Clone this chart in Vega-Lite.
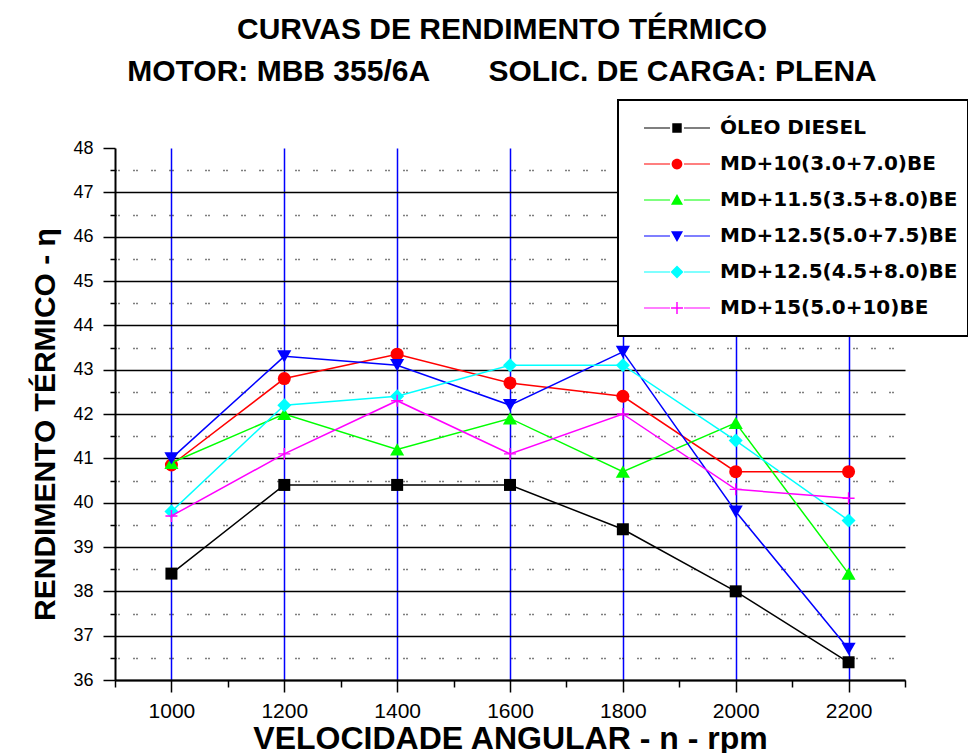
{
  "$schema": "https://vega.github.io/schema/vega-lite/v6.json",
  "autosize": "none",
  "width": 790,
  "height": 532,
  "padding": {"left": 115, "top": 148, "right": 63, "bottom": 73},
  "background": "white",
  "title": {
    "text": "CURVAS DE RENDIMENTO TÉRMICO\u00a0\u00a0\u00a0\u00a0\u00a0\u00a0\u00a0\u00a0\u00a0\u00a0\u00a0\u00a0\u00a0",
    "subtitle": "MOTOR: MBB 355/6A\u00a0\u00a0\u00a0\u00a0\u00a0\u00a0\u00a0SOLIC. DE CARGA: PLENA",
    "anchor": "middle",
    "dx": -8,
    "font": "Liberation Sans",
    "fontSize": 30,
    "fontWeight": "bold",
    "color": "black",
    "subtitleFont": "Liberation Sans",
    "subtitleFontSize": 30,
    "subtitleFontWeight": "bold",
    "subtitleColor": "black",
    "subtitlePadding": 12,
    "offset": 12
  },
  "data": {
    "values": [
      {"series": "ÓLEO DIESEL", "rpm": 1000, "eta": 38.4},
      {"series": "ÓLEO DIESEL", "rpm": 1200, "eta": 40.4},
      {"series": "ÓLEO DIESEL", "rpm": 1400, "eta": 40.4},
      {"series": "ÓLEO DIESEL", "rpm": 1600, "eta": 40.4},
      {"series": "ÓLEO DIESEL", "rpm": 1800, "eta": 39.4},
      {"series": "ÓLEO DIESEL", "rpm": 2000, "eta": 38.0},
      {"series": "ÓLEO DIESEL", "rpm": 2200, "eta": 36.4},
      {"series": "MD+10(3.0+7.0)BE", "rpm": 1000, "eta": 40.85},
      {"series": "MD+10(3.0+7.0)BE", "rpm": 1200, "eta": 42.8},
      {"series": "MD+10(3.0+7.0)BE", "rpm": 1400, "eta": 43.35},
      {"series": "MD+10(3.0+7.0)BE", "rpm": 1600, "eta": 42.7},
      {"series": "MD+10(3.0+7.0)BE", "rpm": 1800, "eta": 42.4},
      {"series": "MD+10(3.0+7.0)BE", "rpm": 2000, "eta": 40.7},
      {"series": "MD+10(3.0+7.0)BE", "rpm": 2200, "eta": 40.7},
      {"series": "MD+11.5(3.5+8.0)BE", "rpm": 1000, "eta": 40.9},
      {"series": "MD+11.5(3.5+8.0)BE", "rpm": 1200, "eta": 42.0},
      {"series": "MD+11.5(3.5+8.0)BE", "rpm": 1400, "eta": 41.2},
      {"series": "MD+11.5(3.5+8.0)BE", "rpm": 1600, "eta": 41.9},
      {"series": "MD+11.5(3.5+8.0)BE", "rpm": 1800, "eta": 40.7},
      {"series": "MD+11.5(3.5+8.0)BE", "rpm": 2000, "eta": 41.8},
      {"series": "MD+11.5(3.5+8.0)BE", "rpm": 2200, "eta": 38.4},
      {"series": "MD+12.5(5.0+7.5)BE", "rpm": 1000, "eta": 41.0},
      {"series": "MD+12.5(5.0+7.5)BE", "rpm": 1200, "eta": 43.3},
      {"series": "MD+12.5(5.0+7.5)BE", "rpm": 1400, "eta": 43.1},
      {"series": "MD+12.5(5.0+7.5)BE", "rpm": 1600, "eta": 42.2},
      {"series": "MD+12.5(5.0+7.5)BE", "rpm": 1800, "eta": 43.4},
      {"series": "MD+12.5(5.0+7.5)BE", "rpm": 2000, "eta": 39.8},
      {"series": "MD+12.5(5.0+7.5)BE", "rpm": 2200, "eta": 36.7},
      {"series": "MD+12.5(4.5+8.0)BE", "rpm": 1000, "eta": 39.8},
      {"series": "MD+12.5(4.5+8.0)BE", "rpm": 1200, "eta": 42.2},
      {"series": "MD+12.5(4.5+8.0)BE", "rpm": 1400, "eta": 42.4},
      {"series": "MD+12.5(4.5+8.0)BE", "rpm": 1600, "eta": 43.1},
      {"series": "MD+12.5(4.5+8.0)BE", "rpm": 1800, "eta": 43.1},
      {"series": "MD+12.5(4.5+8.0)BE", "rpm": 2000, "eta": 41.4},
      {"series": "MD+12.5(4.5+8.0)BE", "rpm": 2200, "eta": 39.6},
      {"series": "MD+15(5.0+10)BE", "rpm": 1000, "eta": 39.7},
      {"series": "MD+15(5.0+10)BE", "rpm": 1200, "eta": 41.1},
      {"series": "MD+15(5.0+10)BE", "rpm": 1400, "eta": 42.3},
      {"series": "MD+15(5.0+10)BE", "rpm": 1600, "eta": 41.1},
      {"series": "MD+15(5.0+10)BE", "rpm": 1800, "eta": 42.0},
      {"series": "MD+15(5.0+10)BE", "rpm": 2000, "eta": 40.3},
      {"series": "MD+15(5.0+10)BE", "rpm": 2200, "eta": 40.1}
    ]
  },
  "encoding": {
    "x": {
      "field": "rpm",
      "type": "quantitative",
      "scale": {"domain": [900, 2300], "nice": false, "zero": false},
      "axis": {
        "title": "VELOCIDADE ANGULAR - n - rpm",
        "titleFont": "Liberation Sans",
        "titleFontSize": 32,
        "titleFontWeight": "bold",
        "titleColor": "black",
        "titlePadding": 2,
        "values": [900, 1000, 1100, 1200, 1300, 1400, 1500, 1600, 1700, 1800, 1900, 2000, 2100, 2200, 2300],
        "labelExpr": "(datum.value % 200 == 0) ? format(datum.value, 'd') : ''",
        "labelFont": "Liberation Sans",
        "labelFontSize": 21,
        "labelColor": "black",
        "labelPadding": 8,
        "labelOverlap": false,
        "domainColor": "black",
        "domainWidth": 2,
        "tickColor": "black",
        "tickWidth": 1.5,
        "tickSize": {"condition": {"test": "datum.value % 200 == 0", "value": 12}, "value": 7},
        "grid": true,
        "gridColor": "#0000ff",
        "gridWidth": 1.5,
        "gridOpacity": {"condition": {"test": "datum.value % 200 != 0", "value": 0}, "value": 1}
      }
    },
    "y": {
      "field": "eta",
      "type": "quantitative",
      "scale": {"domain": [36, 48], "nice": false, "zero": false},
      "axis": {
        "title": "RENDIMENTO TÉRMICO - η",
        "titleFont": "Liberation Sans",
        "titleFontSize": 30,
        "titleFontWeight": "bold",
        "titleColor": "black",
        "titlePadding": 12,
        "titleY": 276,
        "values": [36, 36.5, 37, 37.5, 38, 38.5, 39, 39.5, 40, 40.5, 41, 41.5, 42, 42.5, 43, 43.5, 44, 44.5, 45, 45.5, 46, 46.5, 47, 47.5, 48],
        "labelExpr": "(datum.value % 1 == 0) ? format(datum.value, 'd') : ''",
        "labelFont": "Liberation Sans",
        "labelFontSize": 18,
        "labelColor": "black",
        "labelPadding": 10,
        "labelOverlap": false,
        "domainColor": "black",
        "domainWidth": 2,
        "tickColor": "black",
        "tickWidth": 1.5,
        "tickSize": {"condition": {"test": "datum.value % 1 == 0", "value": 12}, "value": 5},
        "grid": true,
        "gridColor": "black",
        "gridWidth": {"condition": {"test": "datum.value % 1 == 0", "value": 1.6}, "value": 1.3},
        "gridDash": {"condition": {"test": "datum.value % 1 != 0", "value": [1, 2, 1, 14]}, "value": []},
        "gridOpacity": {"condition": {"test": "datum.value == 48", "value": 0}, "value": 1}
      }
    }
  },
  "layer": [
    {
      "transform": [{"filter": {"field": "series", "equal": "ÓLEO DIESEL"}}],
      "mark": {"type": "line", "strokeWidth": 1.5, "color": "#000000", "point": {"shape": "square", "filled": true, "size": 144, "color": "#000000", "opacity": 1}}
    },
    {
      "transform": [{"filter": {"field": "series", "equal": "MD+10(3.0+7.0)BE"}}],
      "mark": {"type": "line", "strokeWidth": 1.5, "color": "#ff0000", "point": {"shape": "circle", "filled": true, "size": 169, "color": "#ff0000", "opacity": 1}}
    },
    {
      "transform": [{"filter": {"field": "series", "equal": "MD+11.5(3.5+8.0)BE"}}],
      "mark": {"type": "line", "strokeWidth": 1.5, "color": "#00ff00", "point": {"shape": "triangle-up", "filled": true, "size": 200, "color": "#00ff00", "opacity": 1}}
    },
    {
      "transform": [{"filter": {"field": "series", "equal": "MD+12.5(5.0+7.5)BE"}}],
      "mark": {"type": "line", "strokeWidth": 1.5, "color": "#0000ff", "point": {"shape": "triangle-down", "filled": true, "size": 200, "color": "#0000ff", "opacity": 1}}
    },
    {
      "transform": [{"filter": {"field": "series", "equal": "MD+12.5(4.5+8.0)BE"}}],
      "mark": {"type": "line", "strokeWidth": 1.5, "color": "#00ffff", "point": {"shape": "diamond", "filled": true, "size": 196, "color": "#00ffff", "opacity": 1}}
    },
    {
      "transform": [{"filter": {"field": "series", "equal": "MD+15(5.0+10)BE"}}],
      "mark": {"type": "line", "strokeWidth": 1.5, "color": "#ff00ff", "point": {"shape": "M-1,-0.12H1V0.12H-1Z M-0.12,-1H0.12V1H-0.12Z", "filled": true, "size": 144, "color": "#ff00ff", "opacity": 1}}
    },
    {
      "transform": [{"filter": {"field": "rpm", "lt": 0}}],
      "mark": {"type": "point", "filled": true, "opacity": 1},
      "encoding": {
        "fill": {
          "field": "series",
          "type": "nominal",
          "scale": {
            "domain": ["ÓLEO DIESEL", "MD+10(3.0+7.0)BE", "MD+11.5(3.5+8.0)BE", "MD+12.5(5.0+7.5)BE", "MD+12.5(4.5+8.0)BE", "MD+15(5.0+10)BE"],
            "range": ["#000000", "#ff0000", "#00ff00", "#0000ff", "#00ffff", "#ff00ff"]
          },
          "legend": {
            "title": null,
            "orient": "none",
            "legendX": 503,
            "legendY": -48,
            "direction": "vertical",
            "padding": 10,
            "strokeColor": "black",
            "fillColor": "white",
            "symbolSize": 7396,
            "symbolOpacity": 1,
            "symbolStrokeWidth": 0,
            "symbolOffset": 6,
            "clipHeight": 36,
            "rowPadding": 0,
            "labelOffset": 0,
            "labelFont": "DejaVu Sans",
            "labelFontWeight": "bold",
            "labelFontSize": 20,
            "labelColor": "black",
            "labelBaseline": "middle",
            "labelLimit": 400
          }
        },
        "shape": {
          "field": "series",
          "type": "nominal",
          "scale": {
            "domain": ["ÓLEO DIESEL", "MD+10(3.0+7.0)BE", "MD+11.5(3.5+8.0)BE", "MD+12.5(5.0+7.5)BE", "MD+12.5(4.5+8.0)BE", "MD+15(5.0+10)BE"],
            "range": [
              "M-0.767,-0.014H-0.163V0.014H-0.767Z M0.163,-0.014H0.767V0.014H0.163Z M-0.11,-0.11H0.11V0.11H-0.11Z",
              "M-0.767,-0.014H-0.163V0.014H-0.767Z M0.163,-0.014H0.767V0.014H0.163Z M-0.125,0A0.125,0.125 0 1,1 0.125,0A0.125,0.125 0 1,1 -0.125,0Z",
              "M-0.767,-0.014H-0.163V0.014H-0.767Z M0.163,-0.014H0.767V0.014H0.163Z M0,-0.14L0.14,0.11L-0.14,0.11Z",
              "M-0.767,-0.014H-0.163V0.014H-0.767Z M0.163,-0.014H0.767V0.014H0.163Z M0,0.14L0.14,-0.11L-0.14,-0.11Z",
              "M-0.767,-0.014H-0.163V0.014H-0.767Z M0.163,-0.014H0.767V0.014H0.163Z M0,-0.15L0.15,0L0,0.15L-0.15,0Z",
              "M-0.767,-0.014H-0.163V0.014H-0.767Z M0.163,-0.014H0.767V0.014H0.163Z M-0.14,-0.017H0.14V0.017H-0.14Z M-0.017,-0.14H0.017V0.14H-0.017Z"
            ]
          }
        }
      }
    }
  ],
  "config": {
    "view": {"stroke": null},
    "legend": {"strokeWidth": 2, "symbolOpacity": 1}
  }
}
